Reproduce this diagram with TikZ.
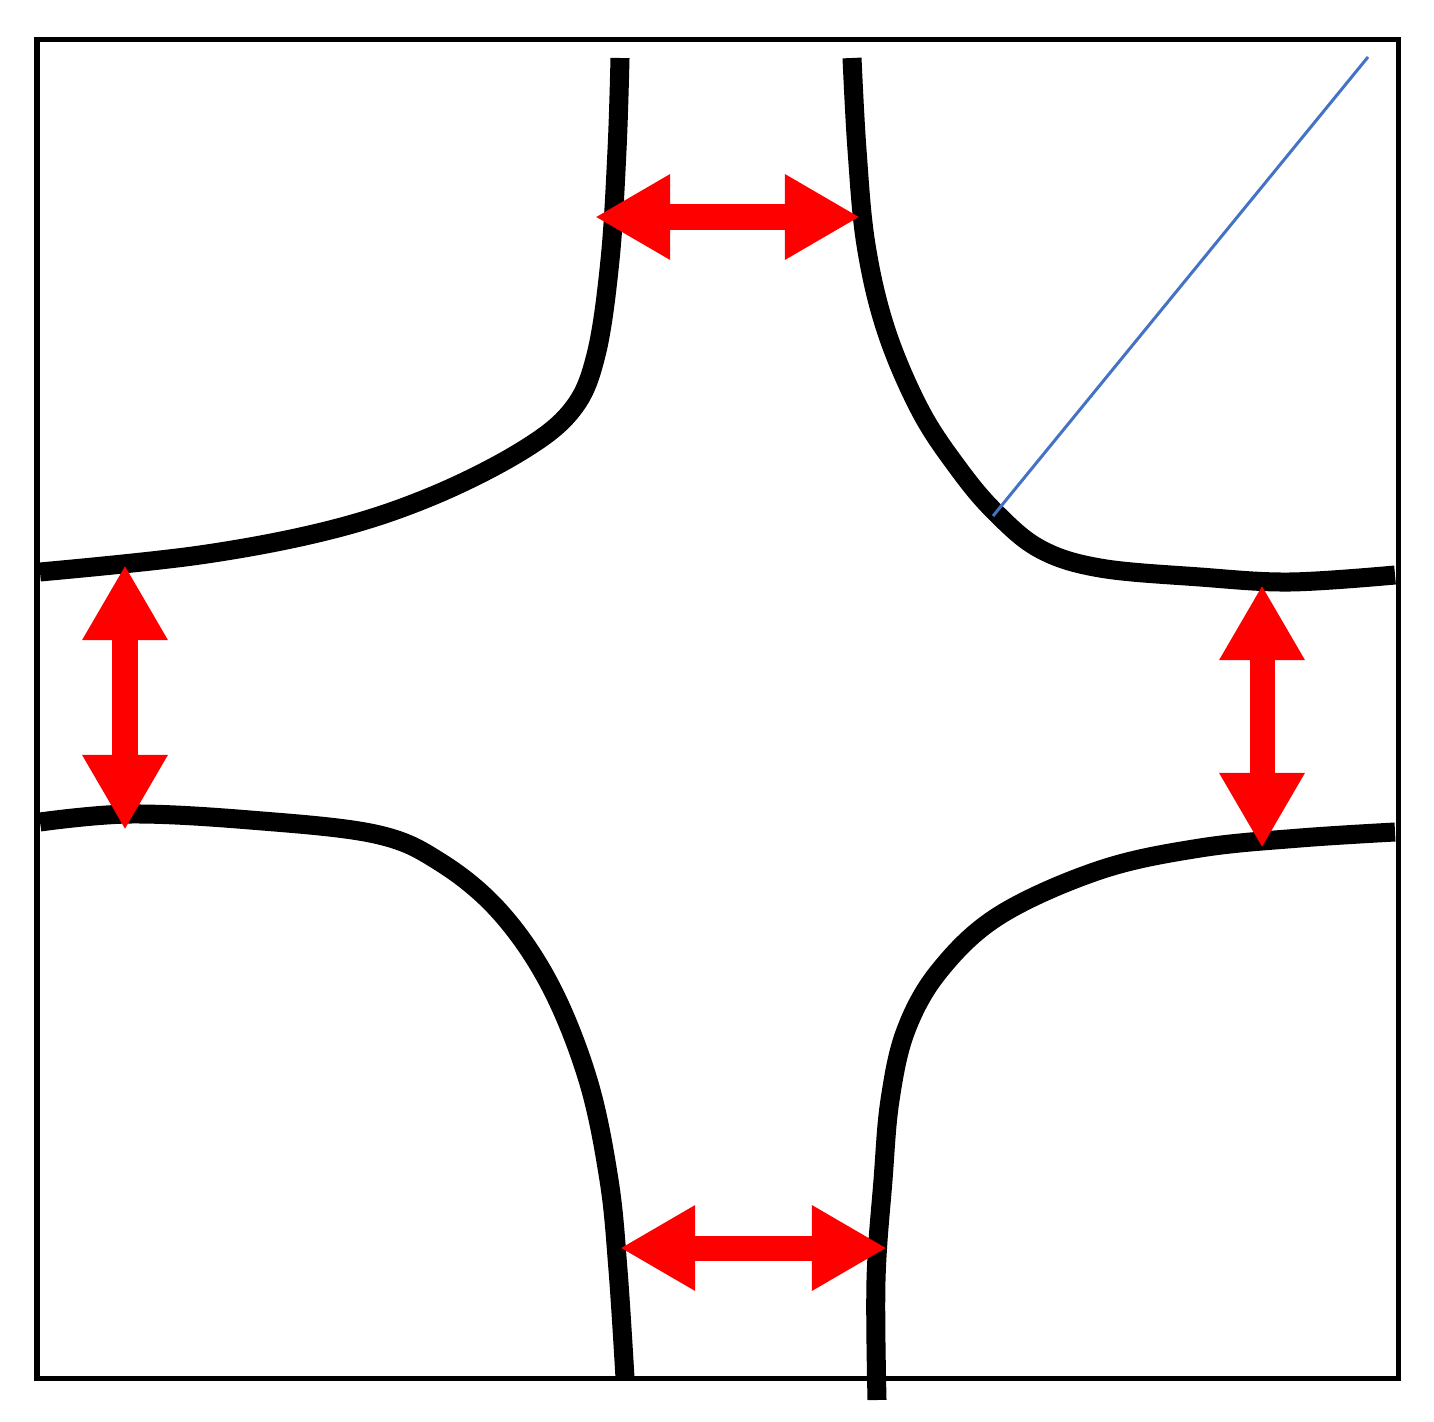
\documentclass[tikz,border=0pt]{standalone}
\usepackage{tikz}
\usetikzlibrary{arrows.meta,calc}
\definecolor{arrowred}{RGB}{255,0,0}
\definecolor{lineblue}{RGB}{68,114,196}

\begin{document}
\begin{tikzpicture}[x=0.01cm,y=-0.01cm,
    curve/.style={line width=0.19cm, line join=round},
    gap/.style={arrowred, line width=0.25cm,
      {Triangle[length=0.75cm,width=0.8cm]}-{Triangle[length=0.75cm,width=0.8cm]}}]
    \useasboundingbox (0,0) rectangle (1434,1422);
    \draw[line width=0.05cm] (37,40) rectangle (1398,1378);

    \draw[curve] plot[smooth, tension=0.6] coordinates {(620,58) (617,150) (610,260) (596,355) (572,410) (520,452) (430,497) (330,530) (200,555) (40,572)};
    \draw[curve] plot[smooth, tension=0.6] coordinates {(852,58) (857,150) (866,245) (886,330) (920,410) (958,468) (995,512) (1040,549) (1100,568) (1200,577) (1290,582) (1395,575)};
    \draw[curve] plot[smooth, tension=0.6] coordinates {(40,822) (130,814) (250,820) (375,834) (440,862) (500,912) (550,985) (588,1080) (609,1180) (618,1270) (625,1378)};
    \draw[curve] plot[smooth, tension=0.6] coordinates {(1395,832) (1300,838) (1200,848) (1100,870) (1000,915) (940,970) (906,1030) (890,1100) (883,1180) (876,1280) (877,1400)};

    \coordinate (tip) at (993,516);
    \coordinate (corner) at (1368,57);
    \draw[lineblue, line width=0.03cm] (tip) -- (corner);

    \coordinate (T1) at (595,217);
    \coordinate (T2) at (860,217);
    \coordinate (B1) at (620,1248);
    \coordinate (B2) at (887,1248);
    \coordinate (L1) at (125,565);
    \coordinate (L2) at (125,830);
    \coordinate (R1) at (1262,585);
    \coordinate (R2) at (1262,848);

    \draw[gap] (T1) -- (T2);
    \draw[gap] (B1) -- (B2);
    \draw[gap] (L1) -- (L2);
    \draw[gap] (R1) -- (R2);
\end{tikzpicture}
\end{document}
